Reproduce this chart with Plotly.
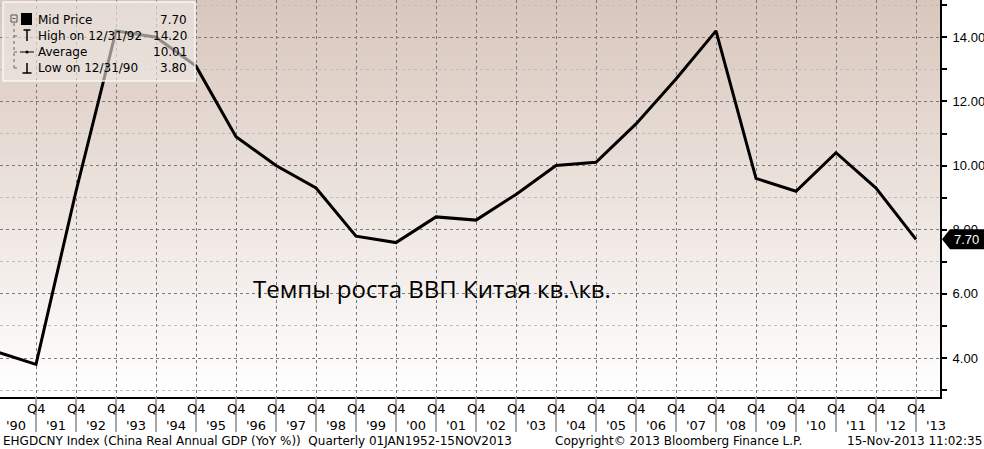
import plotly.graph_objects as go

# ---- data ----
years = [1989, 1990, 1991, 1992, 1993, 1994, 1995, 1996, 1997, 1998, 1999, 2000,
         2001, 2002, 2003, 2004, 2005, 2006, 2007, 2008, 2009, 2010, 2011, 2012]
gdp_yoy = [4.2, 3.8, 9.2, 14.2, 14.0, 13.1, 10.9, 10.0, 9.3, 7.8, 7.6, 8.4,
           8.3, 9.1, 10.0, 10.1, 11.3, 12.7, 14.2, 9.6, 9.2, 10.4, 9.3, 7.7]
q4_years = list(range(1990, 2013))
year_labels = ["'%02d" % (y % 100) for y in range(1990, 2014)]
y_ticks = [4, 6, 8, 10, 12, 14]
y_ticktext = ["4.00", "6.00", "8.00", "10.00", "12.00", "14.00"]

title_text = "Темпы роста ВВП Китая кв.\\кв."
footer_left = "EHGDCNY Index (China Real Annual GDP (YoY %))  Quarterly 01JAN1952-15NOV2013"
footer_mid = "Copyright\u00a9 2013 Bloomberg Finance L.P."
footer_right = "15-Nov-2013 11:02:35"

# visible window stats
vis = [(y, v) for y, v in zip(years, gdp_yoy) if y >= 1990]
last_val = vis[-1][1]
hi_y, hi_v = max(vis, key=lambda t: t[1])
lo_y, lo_v = min(vis, key=lambda t: t[1])
avg_v = sum(v for _, v in vis) / len(vis)

W, H = 984, 449
PW, PH = 940, 397
XR = [1989.1, 2012.6]
YR = [2.785, 15.162]

def px(x):
    return x / PW

def py(y):
    return 1 - y / PH

FONT = "DejaVu Sans"
AXFONT = "Liberation Sans"

fig = go.Figure()

fig.add_trace(go.Scatter(x=years, y=gdp_yoy, mode="lines",
                         line=dict(color="black", width=3), hoverinfo="skip",
                         showlegend=False))

# right-axis arrow markers at major ticks
fig.add_trace(go.Scatter(x=[XR[1] + 4.5 * (XR[1] - XR[0]) / PW] * len(y_ticks), y=y_ticks,
                         mode="markers", cliponaxis=False,
                         marker=dict(symbol="triangle-right", size=8, color="black"),
                         hoverinfo="skip", showlegend=False))

shapes = []
# gradient background
top = (0xd9, 0xc7, 0xbc)
bot = (0xff, 0xff, 0xff)
N = 80
for i in range(N):
    t = i / (N - 1)
    c = tuple(int(round(top[k] + (bot[k] - top[k]) * t)) for k in range(3))
    shapes.append(dict(type="rect", xref="paper", yref="paper",
                       x0=0, x1=1, y0=1 - (i + 1) / N, y1=1 - i / N + 0.002,
                       fillcolor="rgb(%d,%d,%d)" % c, line=dict(width=0), layer="below"))

# Q4 dividers below the axis
for yv in q4_years:
    shapes.append(dict(type="line", xref="x", yref="paper", x0=yv, x1=yv,
                       y0=0, y1=-35 / PH, line=dict(color="#8a8a8a", width=1.5)))

# legend box
shapes.append(dict(type="rect", xref="paper", yref="paper",
                   x0=px(3), x1=px(195), y0=py(81), y1=py(2),
                   fillcolor="rgba(238,233,230,0.6)",
                   line=dict(color="rgba(250,250,250,0.9)", width=1.5), layer="above"))
# tree
shapes.append(dict(type="rect", xref="paper", yref="paper",
                   x0=px(11), x1=px(17), y0=py(22), y1=py(15),
                   fillcolor="rgba(0,0,0,0)", line=dict(color="#555", width=1)))
shapes.append(dict(type="line", xref="paper", yref="paper",
                   x0=px(12.5), x1=px(15.5), y0=py(18.5), y1=py(18.5),
                   line=dict(color="#555", width=1)))
shapes.append(dict(type="line", xref="paper", yref="paper",
                   x0=px(14), x1=px(14), y0=py(68), y1=py(22),
                   line=dict(color="#666", width=1, dash="dot")))
for yy in [36, 52, 68]:
    shapes.append(dict(type="line", xref="paper", yref="paper",
                       x0=px(14), x1=px(20), y0=py(yy), y1=py(yy),
                       line=dict(color="#666", width=1, dash="dot")))
# black square
shapes.append(dict(type="rect", xref="paper", yref="paper",
                   x0=px(21), x1=px(32), y0=py(25), y1=py(13),
                   fillcolor="black", line=dict(width=0)))
# high icon
shapes.append(dict(type="line", xref="paper", yref="paper",
                   x0=px(27), x1=px(27), y0=py(41), y1=py(30),
                   line=dict(color="black", width=1.5)))
shapes.append(dict(type="line", xref="paper", yref="paper",
                   x0=px(23.5), x1=px(30.5), y0=py(30), y1=py(30),
                   line=dict(color="black", width=1.5)))
# average icon
shapes.append(dict(type="line", xref="paper", yref="paper",
                   x0=px(20), x1=px(34), y0=py(52), y1=py(52),
                   line=dict(color="black", width=1)))
shapes.append(dict(type="circle", xref="paper", yref="paper",
                   x0=px(25.5), x1=px(28.5), y0=py(53.5), y1=py(50.5),
                   fillcolor="black", line=dict(width=0)))
# low icon
shapes.append(dict(type="line", xref="paper", yref="paper",
                   x0=px(27), x1=px(27), y0=py(73), y1=py(63),
                   line=dict(color="black", width=1.5)))
shapes.append(dict(type="line", xref="paper", yref="paper",
                   x0=px(22.5), x1=px(31.5), y0=py(73), y1=py(73),
                   line=dict(color="black", width=1.5)))

# last price tag
tag_y = last_val
dy = (YR[1] - YR[0]) * 10 / PH
path = "M %f %f L %f %f L %f %f L %f %f L %f %f Z" % (
    px(942), tag_y,
    px(950), tag_y + dy,
    px(984), tag_y + dy,
    px(984), tag_y - dy,
    px(950), tag_y - dy)
shapes.append(dict(type="path", xref="paper", yref="y", path=path,
                   fillcolor="black", line=dict(width=0), layer="above"))

annotations = []
# Q4 labels and year labels
for yv in q4_years:
    annotations.append(dict(x=yv, y=py(408), xref="x", yref="paper", text="Q4",
                            showarrow=False, xanchor="center", yanchor="middle",
                            font=dict(family=FONT, size=13, color="black")))
for i, lab in enumerate(year_labels):
    annotations.append(dict(x=1989.5 + i, y=py(425), xref="x", yref="paper", text=lab,
                            showarrow=False, xanchor="center", yanchor="middle",
                            font=dict(family=FONT, size=13, color="black")))
# footer
annotations.append(dict(x=px(1), y=py(441), xref="paper", yref="paper", text=footer_left,
                        showarrow=False, xanchor="left", yanchor="middle",
                        font=dict(family=FONT, size=12, color="black")))
annotations.append(dict(x=px(553), y=py(441), xref="paper", yref="paper", text=footer_mid,
                        showarrow=False, xanchor="left", yanchor="middle",
                        font=dict(family=FONT, size=12, color="black")))
annotations.append(dict(x=px(984), y=py(441), xref="paper", yref="paper", text=footer_right,
                        showarrow=False, xanchor="right", yanchor="middle",
                        font=dict(family=FONT, size=12, color="black")))
# title text
annotations.append(dict(x=px(432), y=py(288), xref="paper", yref="paper", text=title_text,
                        showarrow=False, xanchor="center", yanchor="middle",
                        font=dict(family="Open Sans", size=24, color="black")))
# legend texts
leg_rows = [("Mid Price", last_val, 20),
            ("High on 12/31/%02d" % (hi_y % 100), hi_v, 36),
            ("Average", avg_v, 52),
            ("Low on 12/31/%02d" % (lo_y % 100), lo_v, 68)]
for lab, val, yy in leg_rows:
    annotations.append(dict(x=px(36), y=py(yy), xref="paper", yref="paper", text=lab,
                            showarrow=False, xanchor="left", yanchor="middle",
                            font=dict(family=FONT, size=12, color="black")))
    annotations.append(dict(x=px(189), y=py(yy), xref="paper", yref="paper",
                            text="%.2f" % val, showarrow=False, xanchor="right",
                            yanchor="middle",
                            font=dict(family=FONT, size=12, color="black")))
# tag text
annotations.append(dict(x=px(966), y=last_val, xref="paper", yref="y",
                        text="%.2f" % last_val, showarrow=False, xanchor="center",
                        yanchor="middle", font=dict(family=AXFONT, size=13, color="white")))

fig.update_layout(
    template="none",
    width=W, height=H,
    margin=dict(l=0, r=W - PW, t=0, b=H - PH, pad=0, autoexpand=False),
    paper_bgcolor="white", plot_bgcolor="rgba(0,0,0,0)",
    shapes=shapes, annotations=annotations, showlegend=False,
    xaxis=dict(range=XR, tickvals=q4_years, showticklabels=False, ticks="",
               showgrid=True, gridcolor="#7a7a7a", griddash="dot", gridwidth=1,
               showline=True, linecolor="black", linewidth=2, zeroline=False,
               fixedrange=True, automargin=False),
    yaxis=dict(range=YR, side="right", tickvals=y_ticks, ticktext=y_ticktext,
               ticks="", ticklen=0, showgrid=True, gridcolor="#7a7a7a",
               griddash="dot", gridwidth=1, showline=True, linecolor="black",
               linewidth=2, zeroline=False, fixedrange=True, automargin=False,
               tickfont=dict(family=AXFONT, size=13, color="black"),
               ticklabelstandoff=8,
               minor=dict(dtick=1, tick0=3, ticks="outside", ticklen=5,
                          tickcolor="black", tickwidth=1.5, showgrid=True,
                          gridcolor="#bdbdbd", griddash="dot", gridwidth=1)),
)

fig.write_html("out.html", config={"displayModeBar": False},
               post_script="document.body.style.margin='0';document.body.style.overflow='hidden';")
